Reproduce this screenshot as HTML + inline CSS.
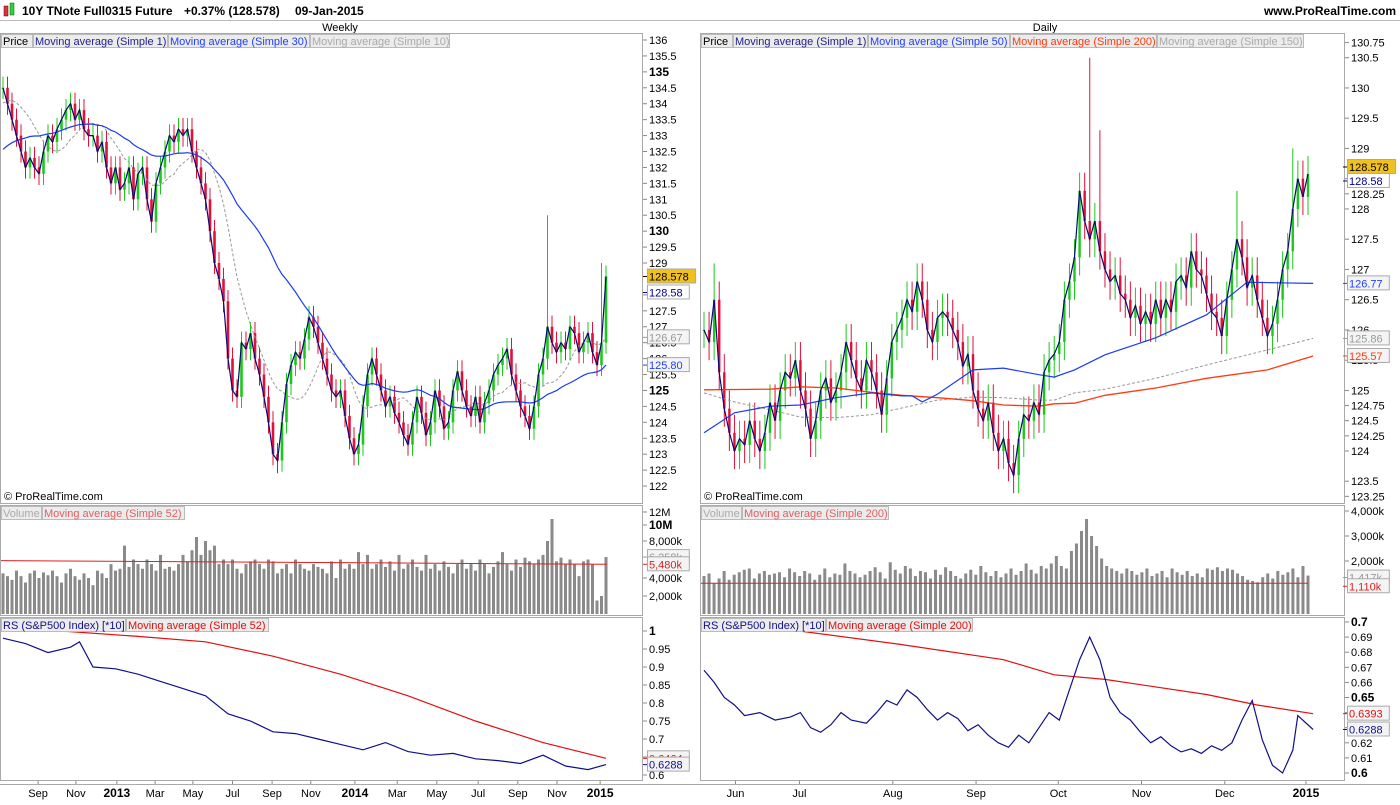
<!DOCTYPE html>
<html><head><meta charset="utf-8"><style>
body{margin:0;background:#fff;font-family:"Liberation Sans",sans-serif}
svg text{font-family:"Liberation Sans",sans-serif}
</style></head><body>
<svg id="c" width="1400" height="800" viewBox="0 0 1400 800" xmlns="http://www.w3.org/2000/svg">
<rect width="1400" height="800" fill="#fff"/>
<g>
<rect x="4" y="6" width="4" height="10" fill="#e03040" stroke="#600" stroke-width=".5"/>
<rect x="10" y="3" width="4" height="12" fill="#30d040" stroke="#060" stroke-width=".5"/>
<text x="22" y="15" font-size="12" font-weight="bold">10Y TNote Full0315 Future</text>
<text x="184" y="15" font-size="12" font-weight="bold">+0.37% (128.578)</text>
<text x="295" y="15" font-size="12" font-weight="bold">09-Jan-2015</text>
<text x="1396" y="15" font-size="12" font-weight="bold" text-anchor="end">www.ProRealTime.com</text>
<line x1="0" y1="20.5" x2="1400" y2="20.5" stroke="#bbb"/>
<text x="340" y="31" font-size="11" text-anchor="middle">Weekly</text>
<text x="1045" y="31" font-size="11" text-anchor="middle">Daily</text>
</g>
<g id="g"></g>
</svg>
<script>
// ===== WEEKLY DATA =====
const wHistory=[130.5,130.8,131,131.2,130.8,131,131.5,131.8,131.5,132,132.3,132,131.8,132.2,132.5,132.3,132.8,133,132.6,133.2,133.5,133.2,133.8,134,133.6,134.2,134.5,134.2,134.8];
const wCloses=[134.5,134,133.5,133,132.5,132,132.3,132,131.8,132.5,
133,132.8,133.2,133.5,133.8,134,133.5,133.8,133.2,133,
133,132.5,132.8,132,131.5,132,131.3,131.5,132,131,
131.8,132,131,130.3,131.5,132,132.5,133,132.8,133.2,
133,133.2,132.5,132,131.5,131,130,129,128.5,127.8,
126,125,124.8,126.5,126.3,126.8,126,125.5,124.8,124,
123,122.8,124,125.2,125.8,126.2,126,126.6,127.3,127,
126.5,126,125.5,125,124.8,125,124.2,123.5,123,123.3,
124.5,125.5,126,125.5,125,124.5,124.8,124.3,124,123.6,
123.3,124,124.8,124.3,123.6,124,125,124.5,123.8,124,
125,125.6,125,124.5,124.2,124.8,124,124.6,125,125.5,
125.8,126,126.3,125.5,125,124.5,124.2,123.8,124.5,125.5,
126,127,126.5,126.2,126.5,126.3,127,126.8,126.2,126.5,
126.8,126.2,125.8,126.5,128.578];
const wSpikeIdx=[61,121,133];
const wSpikeHigh=[122.4,130.5,129];
const wVol=[4.5,4.2,3.8,4.8,4.2,3.5,4.5,4.8,4.0,4.6,4.3,4.8,4.2,3.5,4.5,5.0,4.2,3.8,4.5,4.0,
3.2,4.8,4.5,4.0,5.5,4.8,5.0,7.5,5.2,6.0,5.5,5.0,6.0,5.5,4.8,6.5,5.0,5.2,4.8,5.5,
6.5,5.8,7.0,8.5,6.5,8.0,7.0,7.5,5.5,6.0,5.5,6.0,5.0,4.5,5.5,5.8,6.0,5.5,5.0,6.0,
5.8,4.5,5.0,5.5,4.5,6.0,5.5,5.0,4.8,5.5,5.2,5.0,4.5,5.8,4.0,6.0,5.0,5.5,5.0,6.8,
5.5,6.5,5.0,5.5,6.0,5.2,5.8,4.8,6.5,5.0,5.5,6.0,5.2,4.8,6.5,5.0,5.5,4.8,5.8,5.2,
4.5,5.5,6.0,5.0,5.5,4.8,6.0,5.5,4.5,5.2,5.8,6.8,5.5,4.8,6.0,5.2,6.2,5.8,5.5,6.0,
6.5,8.0,12.0,5.8,6.2,5.5,6.0,5.5,4.2,5.8,6.0,5.5,1.5,2.0,6.26];
const wVolMA=5.48;
const wRsIdx=[0,5,10,15,17,20,25,30,35,40,45,50,55,60,65,70,75,80,85,90,95,100,105,110,115,120,125,130,134];
const wRs=[0.98,0.965,0.94,0.955,0.97,0.9,0.895,0.88,0.86,0.84,0.82,0.77,0.75,0.72,0.715,0.70,0.685,0.67,0.69,0.665,0.655,0.66,0.645,0.64,0.632,0.655,0.625,0.615,0.6288];
const wRsMAIdx=[13,30,45,60,75,90,105,120,134];
const wRsMA=[1.0,0.985,0.97,0.93,0.88,0.82,0.75,0.69,0.6464];
const wMonthLabels=['Sep','Nov','2013','Mar','May','Jul','Sep','Nov','2014','Mar','May','Jul','Sep','Nov','2015'];
const wMonthIdx=[7.8,16.2,25.3,33.8,42.2,51,59.8,68.4,78.2,87.6,96.4,105.6,114.4,123.1,132.7];
const wPriceTicks=[136,135.5,135,134.5,134,133.5,133,132.5,132,131.5,131,130.5,130,129.5,129,128,127.5,127,126.5,126,125.5,125,124.5,124,123.5,123,122.5,122];
// ===== DAILY DATA =====
const dCloses=[126,125.8,126.5,125.3,124.7,124.3,124,124.2,124.1,124.5,124.2,124,124.3,124.8,124.5,125,125.3,125.2,125.5,125,124.7,124.2,124.5,125,125.2,124.8,125,125.3,125.8,125.5,125.2,125,125.5,125.3,125,124.6,125.2,125.8,126,126.2,126.5,126.3,126.8,126.5,126,125.8,126.2,126.3,126.2,126,125.8,125.4,125.6,125,124.7,124.5,124.8,124.3,124,124.2,123.8,123.6,124.2,124.6,124.5,124.8,124.6,125.3,125.5,125.6,125.8,126.5,126.8,127.2,128.3,127.8,127.5,127.8,127.3,127,126.8,126.9,126.6,126.5,126.2,126.4,126.1,126.3,126.1,126.5,126.2,126.5,126.3,126.8,126.9,126.7,127.3,127,126.9,126.6,126.3,126.2,125.9,126.5,127,127.5,127.2,126.7,126.9,126.5,126.2,125.9,126.1,126.5,127,127.3,128,128.5,128.2,128.578];
const dSpikeIdx=[2,42,61,76,78,105,116];
const dSpikeHigh=[127.1,127.1,123.3,130.5,129.3,128.3,129];
const dVol=[1400,1500,1100,1300,1600,1250,1450,1550,1650,1700,1300,1500,1600,1450,1500,1550,1350,1700,1550,1400,
1600,1500,1250,1450,1700,1350,1500,1450,1900,1600,1500,1350,1450,1600,1750,1550,1300,1950,1650,1500,
1800,1700,1400,1600,1550,1300,1650,1450,1750,1600,1400,1300,1500,1650,1450,1800,1550,1400,1600,1350,
1500,1700,1450,1600,1900,1650,1500,1800,1700,1900,2200,1800,1700,2400,2700,3200,4000,3000,2600,2100,
1800,1700,1600,1500,1700,1600,1450,1550,1700,1400,1500,1600,1350,1700,1550,1450,1600,1400,1500,1350,
1700,1650,1750,1600,1700,1650,1500,1400,1250,1200,1150,1350,1500,1300,1600,1450,1550,1700,1350,1800,1417];
const dVolMA=1110;
const dMa50Idx=[0,6,13,19,26,33,39,41,43,46,53,59,66,69,73,79,89,99,107,113,120];
const dMa50=[124.30,124.63,124.74,124.76,124.88,124.96,124.91,124.91,124.81,124.94,125.34,125.37,125.26,125.22,125.34,125.59,125.87,126.25,126.79,126.78,126.77];
const dMa200Idx=[0,13,19,26,33,39,46,53,59,66,69,73,79,89,99,111,120];
const dMa200=[125.01,125.02,125.06,125.04,124.97,124.92,124.88,124.83,124.76,124.74,124.78,124.79,124.92,125.04,125.2,125.34,125.57];
const dMa150Idx=[0,6,13,19,26,33,39,46,53,59,66,69,73,79,89,99,111,120];
const dMa150=[124.96,124.81,124.68,124.56,124.55,124.6,124.71,124.84,124.89,124.88,124.84,124.84,124.96,125.02,125.2,125.42,125.67,125.86];
const dRsIdx=[0,2,4,6,8,11,14,17,19,21,23,25,27,29,32,34,36,38,40,42,44,46,48,50,52,54,56,58,60,62,64,66,68,70,72,74,76,78,80,82,84,86,88,90,92,94,96,98,100,102,104,106,108,110,112,114,116,117,120];
const dRs=[0.668,0.66,0.65,0.645,0.638,0.64,0.635,0.637,0.64,0.63,0.627,0.632,0.64,0.635,0.633,0.64,0.648,0.645,0.655,0.65,0.642,0.635,0.64,0.636,0.628,0.632,0.625,0.62,0.617,0.625,0.62,0.63,0.64,0.635,0.655,0.675,0.69,0.675,0.65,0.64,0.635,0.627,0.62,0.624,0.618,0.614,0.616,0.613,0.618,0.615,0.62,0.635,0.648,0.622,0.605,0.6,0.615,0.638,0.6288];
const dRsMAIdx=[6,19,39,59,69,79,99,109,120];
const dRsMA=[0.7,0.694,0.685,0.675,0.665,0.662,0.652,0.645,0.6393];
const dMonthLabels=['Jun','Jul','Aug','Sep','Oct','Nov','Dec','2015'];
const dMonthIdx=[6.2,18.8,37.2,53.6,69.8,86.2,102.6,118.6];
const dPriceTicks=[130.75,130.5,130,129.5,129,128.5,128.25,128,127.5,127,126.5,126,125.5,125,124.75,124.5,124.25,124,123.5,123.25];

// ===== DRAWING =====
const NS='http://www.w3.org/2000/svg';
const G=document.getElementById('g');
function mk(t,a,p){const e=document.createElementNS(NS,t);for(const k in a)e.setAttribute(k,a[k]);(p||G).appendChild(e);return e;}
function txt(x,y,s,a,p){const e=mk('text',Object.assign({x:x,y:y,'font-size':11},a||{}),p);e.textContent=s;return e;}

function panel(x0,x1,y0,y1,name){const r=mk('rect',{x:x0+.5,y:y0+.5,width:x1-x0-1,height:y1-y0-1,fill:'none',stroke:'#aaa'});

}
function legend(x,y,items,name){const g=mk('g',{});


let cx=x;for(const [s,col,w] of items){mk('rect',{x:cx+.5,y:y+.5,width:w,height:13,fill:'#ececec',stroke:'#bbb'},g);txt(cx+2,y+11,s,{fill:col,'font-size':11},g);cx+=w+1;}}
function tag(x,y,s,col,bg,name){const g=mk('g',{});


mk('line',{x1:x-4,y1:y,x2:x,y2:y,stroke:col},g);mk('rect',{x:x+.5,y:y-7.5,width:s.length*6.3+4,height:14,fill:bg,stroke:'#aaa'},g);txt(x+2,y+4,s,{fill:col,'font-size':11},g);}
function clip(id,x0,y0,x1,y1){const c=mk('clipPath',{id:id});mk('rect',{x:x0,y:y0,width:x1-x0,height:y1-y0},c);}
function line(pts,attrs,cl,name){const d=pts.map((p,i)=>(i?'L':'M')+p[0].toFixed(1)+','+p[1].toFixed(1)).join('');const e=mk('path',Object.assign({d:d,fill:'none','clip-path':'url(#'+cl+')'},attrs));

return e;}
function smaH(hist,a,n){const all=hist.concat(a);const off=hist.length;return a.map((v,i)=>{const j=i+off;const s=all.slice(Math.max(0,j-n+1),j+1);return s.reduce((p,q)=>p+q,0)/s.length;});}

function candles(closes,spI,spH,xf,yf,bw,pad,cl,prefix){
  const g=mk('g',{'clip-path':'url(#'+cl+')'});
  
  
  closes.forEach((c,i)=>{const o=i?closes[i-1]:c;const up=c>=o;const col=up?'#1cc81c':'#e0103a';
    let hi=Math.max(o,c)+pad,lo=Math.min(o,c)-pad;const k=spI.indexOf(i);if(k>=0){if(spH[k]>hi)hi=spH[k];if(spH[k]<lo)lo=spH[k];}
    const x=xf(i);const w=mk('line',{x1:x,y1:yf(hi),x2:x,y2:yf(lo),stroke:col,'stroke-width':1},g);
    
    
    const b=mk('rect',{x:x-bw/2,y:yf(Math.max(o,c)),width:bw,height:Math.max(1,Math.abs(yf(o)-yf(c))),fill:col},g);
    
    });
}

// ---- Weekly scales ----
const xW=i=>3+i*4.5;
const yWP=p=>40+(136-p)*31.86;
const wVolPts=[[0,614],[2,596],[4,578],[8,541],[10,525],[12,512]];
const yWV=v=>{for(let i=1;i<wVolPts.length;i++){if(v<=wVolPts[i][0]||i==wVolPts.length-1){const a=wVolPts[i-1],b=wVolPts[i];return a[1]+(v-a[0])/(b[0]-a[0])*(b[1]-a[1]);}}};
const yWR=v=>631+(1-v)*360;
// ---- Daily scales ----
const xD=i=>704+i*(604/(dCloses.length-1));
const yDP=p=>57.7+(130.5-p)*60.5;
const yDV=v=>611-v/40;
const yDR=v=>622+(0.7-v)*1510;

clip('cwp',1,34,642,503);clip('cwv',1,519,642,615);clip('cwr',1,631,642,780);
clip('cdp',701,34,1344,503);clip('cdv',701,519,1344,615);clip('cdr',701,631,1344,780);

panel(0,643,33,504,'weekly-price-panel');panel(0,643,505,616,'weekly-volume-panel');panel(0,643,617,781,'weekly-rs-panel');
panel(700,1345,33,504,'daily-price-panel');panel(700,1345,505,616,'daily-volume-panel');panel(700,1345,617,781,'daily-rs-panel');
mk('line',{x1:0,y1:784.5,x2:1400,y2:784.5,stroke:'#aaa'});

// ---- Weekly price ----
candles(wCloses,wSpikeIdx,wSpikeHigh,xW,yWP,2.6,0.35,'cwp','weekly');
const wm10=smaH(wHistory,wCloses,10),wm30=smaH(wHistory,wCloses,30);
line(wm10.map((v,i)=>[xW(i),yWP(v)]),{stroke:'#999','stroke-dasharray':'3,2','stroke-width':1},'cwp','weekly-ma10');
line(wm30.map((v,i)=>[xW(i),yWP(v)]),{stroke:'#1a3cf0','stroke-width':1.2},'cwp','weekly-ma30');
line(wCloses.map((v,i)=>[xW(i),yWP(v)]),{stroke:'#0a0a70','stroke-width':1.2},'cwp','weekly-ma1');
txt(4,500,'© ProRealTime.com',{'font-size':11});
legend(1,34,[['Price','#000',31],['Moving average (Simple 1)','#22228a',134],['Moving average (Simple 30)','#2040ff',141],['Moving average (Simple 10)','#aaa',139]],'weekly-legend');
wPriceTicks.forEach(p=>{const y=yWP(p);mk('line',{x1:643,y1:y,x2:647,y2:y,stroke:'#888'});const b=(p%5==0);txt(649,y+4,String(p),{'font-weight':b?'bold':'normal','font-size':b?12:11});});
tag(647,yWP(128.578),'128.578','#000','#f0c020','weekly-last-price');
tag(647,yWP(128.578)+16,'128.58','#000090','#fff','weekly-ma1-value');
tag(647,yWP(wm10[wm10.length-1]),wm10[wm10.length-1].toFixed(2),'#999','#f4f4f4','weekly-ma10-value');
tag(647,yWP(wm30[wm30.length-1]),wm30[wm30.length-1].toFixed(2),'#2040ff','#f4f4f4','weekly-ma30-value');

// ---- Weekly volume ----
wVol.forEach((v,i)=>{const r=mk('rect',{x:xW(i)-1.5,y:yWV(v),width:3,height:614-yWV(v),fill:'#8a8a8a','clip-path':'url(#cwv)'});

});
line([[1,yWV(wVolMA+0.4)],[607,yWV(wVolMA)]],{stroke:'#e02020','stroke-width':1},'cwv','weekly-volume-ma52');
legend(1,506,[['Volume','#aaa',40],['Moving average (Simple 52)','#e06060',142]],'weekly-volume-legend');
[[12,'12M',0],[10,'10M',1],[8,'8,000k',0],[4,'4,000k',0],[2,'2,000k',0]].forEach(([v,s,b])=>{const y=yWV(v);mk('line',{x1:643,y1:y,x2:647,y2:y,stroke:'#888'});txt(649,y+4,s,{'font-weight':b?'bold':'normal','font-size':b?12:11});});
tag(647,yWV(6.26),'6,258k','#999','#f4f4f4','weekly-volume-value');
tag(647,yWV(wVolMA),'5,480k','#e02020','#f4f4f4','weekly-volume-ma-value');

// ---- Weekly RS ----
line(wRsMAIdx.map((k,i)=>[xW(k),yWR(wRsMA[i])]),{stroke:'#e01010','stroke-width':1.2},'cwr','weekly-rs-ma52');
line(wRsIdx.map((k,i)=>[xW(k),yWR(wRs[i])]),{stroke:'#10108a','stroke-width':1.2},'cwr','weekly-rs-line');
legend(1,618,[['RS (S&P500 Index) [*10]','#10108a',124],['Moving average (Simple 52)','#e01010',142]],'weekly-rs-legend');
[1,0.95,0.9,0.85,0.8,0.75,0.7,0.65,0.6].forEach(v=>{const y=yWR(v);mk('line',{x1:643,y1:y,x2:647,y2:y,stroke:'#888'});txt(649,y+4,String(v),{'font-weight':v==1?'bold':'normal','font-size':v==1?12:11});});
tag(647,yWR(0.6464),'0.6464','#e01010','#f4f4f4','weekly-rs-ma-value');
tag(647,yWR(0.6288),'0.6288','#10108a','#f4f4f4','weekly-rs-value');
wMonthLabels.forEach((s,i)=>{const x=xW(wMonthIdx[i]);mk('line',{x1:x,y1:781,x2:x,y2:784,stroke:'#888'});const b=/^\d/.test(s);
const t=txt(x,797,s,{'text-anchor':'middle','font-weight':b?'bold':'normal','font-size':b?12:11});

});

// ---- Daily price ----
candles(dCloses,dSpikeIdx,dSpikeHigh,xD,yDP,2.4,0.3,'cdp','daily');
line(dMa150Idx.map((k,i)=>[xD(k),yDP(dMa150[i])]),{stroke:'#999','stroke-dasharray':'3,2','stroke-width':1},'cdp','daily-ma150');
line(dMa200Idx.map((k,i)=>[xD(k),yDP(dMa200[i])]),{stroke:'#ff3a10','stroke-width':1.3},'cdp','daily-ma200');
line(dMa50Idx.map((k,i)=>[xD(k),yDP(dMa50[i])]),{stroke:'#1a3cf0','stroke-width':1.2},'cdp','daily-ma50');
line(dCloses.map((v,i)=>[xD(i),yDP(v)]),{stroke:'#0a0a70','stroke-width':1.2},'cdp','daily-ma1');
txt(704,500,'© ProRealTime.com',{'font-size':11});
legend(701,34,[['Price','#000',31],['Moving average (Simple 1)','#22228a',134],['Moving average (Simple 50)','#2040ff',141],['Moving average (Simple 200)','#ff3a10',146],['Moving average (Simple 150)','#aaa',146]],'daily-legend');
dPriceTicks.forEach(p=>{const y=yDP(p);mk('line',{x1:1345,y1:y,x2:1349,y2:y,stroke:'#888'});txt(1351,y+4,String(p),{'font-size':11});});
tag(1347,yDP(128.578)-7,'128.578','#000','#f0c020','daily-last-price');
tag(1347,yDP(128.578)+7,'128.58','#000090','#fff','daily-ma1-value');
tag(1347,yDP(dMa50[dMa50.length-1]),'126.77','#2040ff','#f4f4f4','daily-ma50-value');
tag(1347,yDP(dMa150[dMa150.length-1]),'125.86','#999','#f4f4f4','daily-ma150-value');
tag(1347,yDP(dMa200[dMa200.length-1]),'125.57','#ff3a10','#f4f4f4','daily-ma200-value');

// ---- Daily volume ----
const xDV=i=>704+i*(604/(dVol.length-1));
dVol.forEach((v,i)=>{const r=mk('rect',{x:xDV(i)-1.5,y:yDV(v),width:3,height:614-yDV(v),fill:'#8a8a8a','clip-path':'url(#cdv)'});

});
line([[701,yDV(dVolMA)],[1308,yDV(dVolMA)]],{stroke:'#e02020','stroke-width':1},'cdv','daily-volume-ma200');
legend(701,506,[['Volume','#aaa',40],['Moving average (Simple 200)','#e06060',146]],'daily-volume-legend');
[[4000,'4,000k'],[3000,'3,000k'],[2000,'2,000k']].forEach(([v,s])=>{const y=yDV(v);mk('line',{x1:1345,y1:y,x2:1349,y2:y,stroke:'#888'});txt(1351,y+4,s,{'font-size':11});});
tag(1347,yDV(1417)+2,'1,417k','#999','#f4f4f4','daily-volume-value');
tag(1347,yDV(dVolMA)+3,'1,110k','#e02020','#f4f4f4','daily-volume-ma-value');

// ---- Daily RS ----
line(dRsMAIdx.map((k,i)=>[xD(k),yDR(dRsMA[i])]),{stroke:'#e01010','stroke-width':1.2},'cdr','daily-rs-ma200');
line(dRsIdx.map((k,i)=>[xD(k),yDR(dRs[i])]),{stroke:'#10108a','stroke-width':1.2},'cdr','daily-rs-line');
legend(701,618,[['RS (S&P500 Index) [*10]','#10108a',124],['Moving average (Simple 200)','#e01010',146]],'daily-rs-legend');
[0.7,0.69,0.68,0.67,0.66,0.65,0.64,0.63,0.62,0.61,0.6].forEach(v=>{const y=yDR(v);const b=(v==0.7||v==0.65||v==0.6);mk('line',{x1:1345,y1:y,x2:1349,y2:y,stroke:'#888'});txt(1351,y+4,String(v),{'font-weight':b?'bold':'normal','font-size':b?12:11});});
tag(1347,yDR(0.6393),'0.6393','#e01010','#f4f4f4','daily-rs-ma-value');
tag(1347,yDR(0.6288),'0.6288','#10108a','#f4f4f4','daily-rs-value');
dMonthLabels.forEach((s,i)=>{const x=xD(dMonthIdx[i]);mk('line',{x1:x,y1:781,x2:x,y2:784,stroke:'#888'});const b=/^\d/.test(s);
const t=txt(x,797,s,{'text-anchor':'middle','font-weight':b?'bold':'normal','font-size':b?12:11});

});
</script>
</body></html>
